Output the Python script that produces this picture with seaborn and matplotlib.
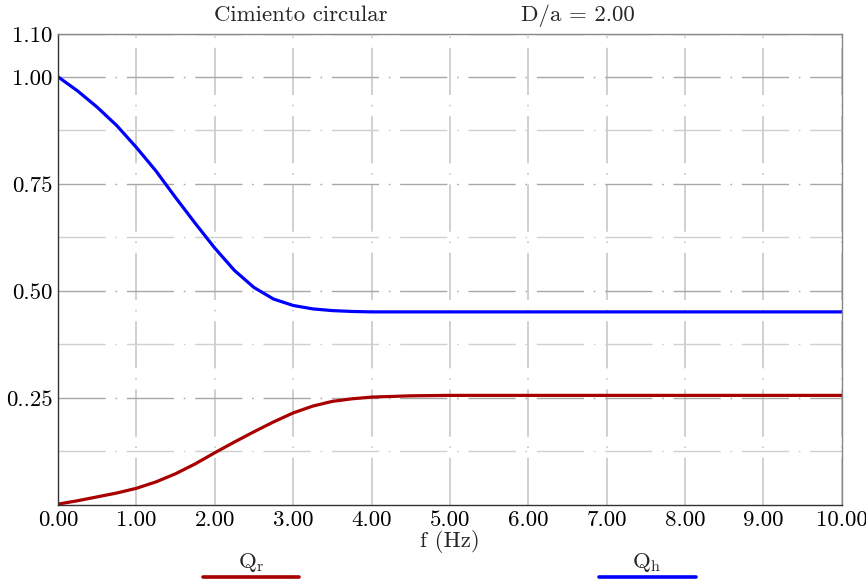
import numpy as np
import pandas as pd
import seaborn as sns
import matplotlib.pyplot as plt
from matplotlib.lines import Line2D

# Data
freq = [0.0, 0.25, 0.5, 0.75, 1.0, 1.25, 1.5, 1.75, 2.0, 2.25, 2.5, 2.75,
        3.0, 3.25, 3.5, 3.75, 4.0, 4.5, 5.0, 6.0, 7.0, 8.0, 9.0, 10.0]
q_h = [1.000, 0.967, 0.929, 0.886, 0.835, 0.780, 0.718, 0.658, 0.600, 0.548,
       0.508, 0.481, 0.466, 0.458, 0.454, 0.452, 0.451, 0.451, 0.451, 0.451,
       0.451, 0.451, 0.451, 0.451]
q_r = [0.002, 0.010, 0.019, 0.028, 0.039, 0.054, 0.073, 0.096, 0.122, 0.147,
       0.171, 0.194, 0.215, 0.231, 0.242, 0.248, 0.252, 0.255, 0.256, 0.256,
       0.256, 0.256, 0.256, 0.256]

x_ticks = [0, 1, 2, 3, 4, 5, 6, 7, 8, 9, 10]
x_labels = ["0.00", "1.00", "2.00", "3.00", "4.00", "5.00", "6.00", "7.00",
            "8.00", "9.00", "10.00"]
y_ticks = [0.25, 0.50, 0.75, 1.00, 1.10]
y_labels = ["0..25", "0.50", "0.75", "1.00", "1.10"]
y_minor = [0.125, 0.375, 0.625, 0.875]

sns.set_theme(style="white")
plt.rcParams["font.family"] = ["cmr10", "DejaVu Serif"]
plt.rcParams["mathtext.fontset"] = "cm"
plt.rcParams["axes.formatter.use_mathtext"] = True
plt.rcParams["lines.scale_dashes"] = False

df = pd.DataFrame({"f": freq, "Qh": q_h, "Qr": q_r})

fig = plt.figure(figsize=(8.66, 5.82), dpi=100)
ax = fig.add_axes([0.067, 0.1323, 0.905, 0.8093])

dash = (0, (34, 7, 1.2, 7))
ax.set_xticks(x_ticks)
ax.set_xticklabels(x_labels)
ax.set_yticks(y_ticks)
ax.set_yticklabels(y_labels)
ax.set_yticks(y_minor, minor=True)
ax.grid(True, which="major", axis="x", color="#c8c8c8", linestyle=dash, linewidth=1.2)
ax.grid(True, which="major", axis="y", color="#a8a8a8", linestyle=dash, linewidth=1.0)
ax.grid(True, which="minor", axis="y", color="#d0d0d0", linestyle=dash, linewidth=1.0)
ax.set_axisbelow(True)

sns.lineplot(data=df, x="f", y="Qh", ax=ax, color="#0000ff", linewidth=2.3)
sns.lineplot(data=df, x="f", y="Qr", ax=ax, color="#a80000", linewidth=2.3)

fs = 16.5
ax.set_xlim(0, 10)
ax.set_ylim(0, 1.10)
ax.tick_params(axis="both", which="both", length=0, labelsize=fs, colors="black", pad=4)
ax.set_xlabel("f (Hz)", fontsize=fs, labelpad=0)
ax.set_ylabel("")
for side in ["left", "bottom"]:
    ax.spines[side].set_color("#333333")
for side in ["top", "right"]:
    ax.spines[side].set_color("#888888")
for s in ax.spines.values():
    s.set_linewidth(1.0)

# title texts
fig.text(0.347, 0.973, "Cimiento circular", ha="center", va="center", fontsize=fs)
fig.text(0.667, 0.973, "D/a = 2.00", ha="center", va="center", fontsize=fs)

# legend below the axes
fig.add_artist(Line2D([203 / 866, 299 / 866], [1 - 577 / 582] * 2,
                      color="#a80000", linewidth=2.6, solid_capstyle="round"))
fig.add_artist(Line2D([599 / 866, 696 / 866], [1 - 577 / 582] * 2,
                      color="#0000ff", linewidth=2.6, solid_capstyle="round"))
fig.text(251 / 866, 1 - 562 / 582, r"$\mathrm{Q_r}$", ha="center", va="center", fontsize=fs)
fig.text(647 / 866, 1 - 562 / 582, r"$\mathrm{Q_h}$", ha="center", va="center", fontsize=fs)

fig.savefig("out.png", dpi=100)
